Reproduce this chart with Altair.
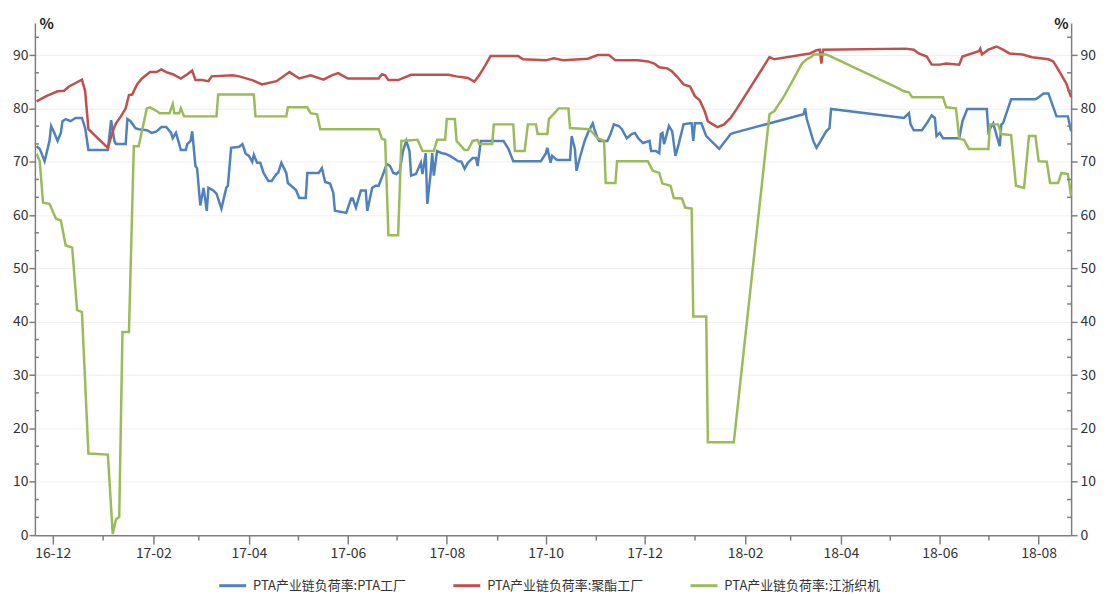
import altair as alt
import pandas as pd

SERIES = ["PTA产业链负荷率:PTA工厂", "PTA产业链负荷率:聚酯工厂", "PTA产业链负荷率:江浙织机"]
COLORS = ["#4F81BD", "#C0504D", "#9BBB59"]

pta_dates = ["2016-11-21","2016-11-23","2016-11-26","2016-11-29","2016-11-30","2016-12-02","2016-12-04","2016-12-06","2016-12-07","2016-12-09","2016-12-12","2016-12-15","2016-12-19","2016-12-21","2016-12-23","2017-01-04","2017-01-06","2017-01-08","2017-01-09","2017-01-15","2017-01-16","2017-01-18","2017-01-21","2017-01-23","2017-01-28","2017-01-31","2017-02-03","2017-02-06","2017-02-09","2017-02-12","2017-02-13","2017-02-15","2017-02-17","2017-02-18","2017-02-21","2017-02-22","2017-02-24","2017-02-25","2017-02-27","2017-02-28","2017-03-02","2017-03-04","2017-03-06","2017-03-07","2017-03-10","2017-03-12","2017-03-15","2017-03-18","2017-03-19","2017-03-21","2017-03-26","2017-03-28","2017-03-30","2017-04-01","2017-04-03","2017-04-04","2017-04-06","2017-04-08","2017-04-10","2017-04-13","2017-04-15","2017-04-18","2017-04-19","2017-04-21","2017-04-24","2017-04-25","2017-04-27","2017-04-30","2017-05-02","2017-05-06","2017-05-07","2017-05-14","2017-05-16","2017-05-18","2017-05-21","2017-05-23","2017-05-24","2017-05-31","2017-06-03","2017-06-04","2017-06-06","2017-06-09","2017-06-12","2017-06-13","2017-06-16","2017-06-18","2017-06-20","2017-06-23","2017-06-25","2017-06-27","2017-06-29","2017-07-01","2017-07-03","2017-07-05","2017-07-07","2017-07-09","2017-07-10","2017-07-13","2017-07-16","2017-07-17","2017-07-19","2017-07-20","2017-07-22","2017-07-23","2017-07-24","2017-07-26","2017-07-29","2017-07-31","2017-08-03","2017-08-06","2017-08-08","2017-08-10","2017-08-12","2017-08-14","2017-08-17","2017-08-19","2017-08-20","2017-08-22","2017-09-05","2017-09-08","2017-09-11","2017-09-28","2017-10-01","2017-10-02","2017-10-04","2017-10-05","2017-10-08","2017-10-16","2017-10-17","2017-10-19","2017-10-20","2017-10-22","2017-10-25","2017-10-27","2017-10-30","2017-10-31","2017-11-02","2017-11-03","2017-11-08","2017-11-10","2017-11-12","2017-11-15","2017-11-17","2017-11-20","2017-11-23","2017-11-25","2017-11-27","2017-11-30","2017-12-04","2017-12-05","2017-12-08","2017-12-10","2017-12-11","2017-12-12","2017-12-13","2017-12-16","2017-12-18","2017-12-20","2017-12-22","2017-12-25","2017-12-29","2017-12-30","2017-12-31","2018-01-01","2018-01-05","2018-01-08","2018-01-16","2018-01-23","2018-01-25","2018-03-09","2018-03-10","2018-03-11","2018-03-15","2018-03-17","2018-03-23","2018-03-25","2018-03-26","2018-05-10","2018-05-13","2018-05-14","2018-05-16","2018-05-21","2018-05-24","2018-05-27","2018-05-29","2018-05-30","2018-06-01","2018-06-03","2018-06-13","2018-06-15","2018-06-18","2018-06-30","2018-07-01","2018-07-04","2018-07-07","2018-07-08","2018-07-09","2018-07-10","2018-07-15","2018-07-30","2018-08-01","2018-08-04","2018-08-07","2018-08-12","2018-08-19","2018-08-21"]
pta_values = [72.9,72.4,70.1,73.9,76.7,75.4,73.9,75.4,77.6,78.0,77.6,78.2,78.2,76.3,72.2,72.2,77.8,73.9,73.3,73.3,78.0,77.6,76.3,76.1,75.9,75.4,75.7,76.5,76.5,75.4,74.4,75.4,73.3,72.2,72.2,73.3,73.9,75.7,69.2,68.8,61.8,65.1,60.8,65.1,64.6,64.0,61.2,65.1,65.5,72.6,72.8,73.3,71.5,71.1,70.0,71.3,69.8,69.8,67.9,66.4,66.4,67.7,67.9,69.8,67.9,66.0,65.5,64.7,63.2,63.2,67.9,67.9,68.8,66.2,65.9,64.2,60.8,60.4,63.1,63.1,61.4,64.6,64.6,60.8,65.1,65.5,65.5,67.9,69.6,69.2,67.9,67.7,68.3,72.0,73.9,72.0,67.4,67.7,69.8,67.7,71.6,62.1,67.7,71.6,67.4,72.0,71.6,71.5,71.1,70.5,70.1,70.0,68.7,69.8,70.7,70.7,69.2,73.9,73.9,72.4,70.1,70.1,71.5,72.6,69.8,71.1,70.3,70.3,74.8,72.4,68.3,70.7,73.9,75.4,77.2,76.1,74.4,73.9,73.9,75.2,77.0,76.7,76.1,74.4,75.2,75.4,74.4,73.5,73.9,72.0,72.0,71.6,75.2,75.4,73.3,76.7,75.7,71.1,73.3,77.0,77.2,77.2,73.9,77.2,77.2,74.8,72.4,75.2,75.4,78.9,80.0,78.0,73.9,72.6,75.7,76.3,79.9,78.2,79.1,77.0,75.9,75.9,77.2,78.7,78.2,74.8,75.4,74.4,74.4,77.6,79.9,79.9,75.7,77.2,73.9,72.9,77.0,77.2,81.7,81.7,82.1,82.8,82.8,78.5,78.5,75.7]

polyester_dates = ["2016-11-21","2016-11-27","2016-12-04","2016-12-08","2016-12-11","2016-12-16","2016-12-19","2016-12-21","2016-12-23","2017-01-04","2017-01-07","2017-01-09","2017-01-12","2017-01-15","2017-01-17","2017-01-19","2017-01-22","2017-01-25","2017-01-30","2017-02-03","2017-02-06","2017-02-09","2017-02-13","2017-02-18","2017-02-22","2017-02-25","2017-02-27","2017-03-03","2017-03-07","2017-03-09","2017-03-22","2017-03-26","2017-04-03","2017-04-09","2017-04-18","2017-04-26","2017-05-02","2017-05-09","2017-05-17","2017-05-22","2017-05-26","2017-06-01","2017-06-20","2017-06-22","2017-06-24","2017-06-26","2017-07-02","2017-07-10","2017-08-02","2017-08-07","2017-08-14","2017-08-18","2017-08-21","2017-08-25","2017-08-28","2017-09-14","2017-09-17","2017-10-01","2017-10-06","2017-10-12","2017-10-27","2017-11-02","2017-11-09","2017-11-13","2017-11-27","2017-12-03","2017-12-07","2017-12-10","2017-12-15","2017-12-18","2017-12-22","2017-12-25","2017-12-29","2018-01-01","2018-01-04","2018-01-07","2018-01-09","2018-01-12","2018-01-15","2018-01-19","2018-01-23","2018-01-27","2018-02-16","2018-02-19","2018-03-09","2018-03-13","2018-03-17","2018-03-19","2018-03-20","2018-03-21","2018-05-11","2018-05-16","2018-05-19","2018-05-24","2018-05-27","2018-06-01","2018-06-05","2018-06-13","2018-06-15","2018-06-25","2018-06-26","2018-06-27","2018-07-01","2018-07-06","2018-07-10","2018-07-14","2018-07-22","2018-07-28","2018-08-07","2018-08-10","2018-08-13","2018-08-18","2018-08-21"]
polyester_values = [81.3,82.3,83.2,83.3,84.1,84.9,85.4,83.2,76.1,72.6,75.7,77.2,78.5,80.0,82.5,82.6,84.5,85.6,86.8,86.8,87.3,86.8,86.4,85.6,86.4,87.1,85.3,85.3,85.1,86.0,86.2,86.0,85.3,84.5,85.1,86.8,85.6,86.2,85.4,86.2,86.6,85.6,85.6,86.4,86.2,85.3,85.3,86.3,86.3,86.0,85.7,85.0,86.2,88.2,89.8,89.8,89.2,89.0,89.4,89.0,89.3,90.0,90.0,89.0,89.0,88.8,88.4,87.7,87.5,86.9,85.6,84.5,84.1,82.3,81.5,79.5,77.6,77.0,76.5,77.0,78.2,80.0,89.6,89.2,90.1,90.3,90.9,91.0,88.4,91.0,91.2,91.0,90.3,89.7,88.2,88.2,88.4,88.2,89.7,90.7,91.2,90.1,91.0,91.6,91.0,90.3,90.1,89.6,89.2,88.8,87.3,84.7,82.1]

loom_dates = ["2016-11-21","2016-11-23","2016-11-25","2016-11-29","2016-12-03","2016-12-06","2016-12-09","2016-12-13","2016-12-16","2016-12-19","2016-12-23","2017-01-04","2017-01-07","2017-01-09","2017-01-11","2017-01-13","2017-01-17","2017-01-20","2017-01-23","2017-01-28","2017-01-30","2017-02-03","2017-02-05","2017-02-11","2017-02-13","2017-02-14","2017-02-17","2017-02-18","2017-02-20","2017-03-12","2017-03-13","2017-04-04","2017-04-05","2017-04-24","2017-04-25","2017-05-07","2017-05-09","2017-05-13","2017-05-15","2017-06-20","2017-06-22","2017-06-24","2017-06-26","2017-07-02","2017-07-04","2017-07-14","2017-07-17","2017-07-24","2017-07-26","2017-07-31","2017-08-01","2017-08-06","2017-08-07","2017-08-12","2017-08-14","2017-08-17","2017-08-20","2017-08-21","2017-08-29","2017-08-30","2017-09-11","2017-09-12","2017-09-18","2017-09-20","2017-09-25","2017-09-26","2017-10-02","2017-10-03","2017-10-09","2017-10-15","2017-10-16","2017-10-28","2017-11-02","2017-11-06","2017-11-07","2017-11-13","2017-11-14","2017-12-03","2017-12-06","2017-12-10","2017-12-12","2017-12-17","2017-12-19","2017-12-24","2017-12-26","2017-12-30","2017-12-31","2018-01-08","2018-01-09","2018-01-25","2018-02-16","2018-02-19","2018-02-25","2018-03-03","2018-03-08","2018-03-11","2018-03-14","2018-03-15","2018-03-23","2018-03-26","2018-05-05","2018-05-10","2018-05-13","2018-05-15","2018-06-03","2018-06-05","2018-06-11","2018-06-13","2018-06-16","2018-06-19","2018-07-01","2018-07-02","2018-07-07","2018-07-09","2018-07-15","2018-07-18","2018-07-23","2018-07-26","2018-07-30","2018-08-01","2018-08-06","2018-08-08","2018-08-13","2018-08-15","2018-08-19","2018-08-21"]
loom_values = [71.5,70.1,62.3,62.1,59.3,59.0,54.3,53.9,42.2,41.8,15.3,15.1,0.2,3.0,3.4,38.1,38.1,72.9,72.9,80.0,80.2,79.5,79.1,79.1,80.8,79.1,79.1,80.0,78.5,78.5,82.6,82.6,78.5,78.5,80.2,80.2,79.1,78.9,76.1,76.1,74.3,74.1,56.2,56.2,73.9,74.1,72.0,72.0,74.1,74.1,78.0,78.0,73.9,72.2,72.2,73.9,74.1,73.3,73.3,77.0,77.0,72.0,72.0,77.0,77.0,75.2,75.2,78.0,80.0,80.0,76.3,76.1,74.4,73.9,66.0,66.0,70.1,70.1,68.3,67.9,65.9,65.5,63.2,63.1,61.4,61.2,41.0,41.0,17.4,17.4,78.9,79.5,82.3,85.6,88.4,89.2,89.7,90.1,90.1,89.7,84.0,83.2,83.0,82.1,82.1,80.2,80.0,74.3,74.1,72.4,72.4,77.0,77.0,75.2,75.0,65.5,65.1,74.8,74.8,70.1,70.0,66.0,66.0,67.9,67.7,63.6]

Y_MAJOR = [0, 10, 20, 30, 40, 50, 60, 70, 80, 90]
Y_MINOR = [3.33, 6.67, 13.33, 16.67, 23.33, 26.67, 33.33, 36.67, 43.33, 46.67,
           53.33, 56.67, 63.33, 66.67, 73.33, 76.67, 83.33, 86.67, 93.33]
X_TICK_MONTHS = [(2016, 12), (2017, 1), (2017, 2), (2017, 3), (2017, 4), (2017, 5), (2017, 6),
                 (2017, 7), (2017, 8), (2017, 9), (2017, 10), (2017, 11), (2017, 12), (2018, 1),
                 (2018, 2), (2018, 3), (2018, 4), (2018, 5), (2018, 6), (2018, 7), (2018, 8)]

rows = []
for name, ds, vs in zip(SERIES, [pta_dates, polyester_dates, loom_dates],
                        [pta_values, polyester_values, loom_values]):
    rows += [{"date": d, "value": v, "series": name} for d, v in zip(ds, vs)]
df = pd.DataFrame(rows)
minor_df = pd.DataFrame({"v": Y_MINOR})

W, H = 1040, 514
AXIS = "#7F7F7F"
LABEL = "#333333"
FONT = "Noto Sans CJK SC"

xscale = alt.Scale(type="utc", domain=[alt.DateTime(year=2016, month=11, date=20, utc=True),
                                       alt.DateTime(year=2018, month=8, date=21, utc=True)])
yscale = alt.Scale(domain=[0, 96], nice=False, zero=True)

odd_test = "utcmonth(datum.value) % 2 == 1"
x_axis = alt.Axis(
    values=[alt.DateTime(year=y, month=m, date=1, utc=True) for y, m in X_TICK_MONTHS],
    labelExpr=f"{odd_test} ? utcFormat(datum.value, '%y-%m') : ''",
    tickSize={"condition": {"test": odd_test, "value": 9}, "value": 5},
    title=None, grid=False, domainColor=AXIS, domainWidth=1.5, tickColor=AXIS, tickWidth=1.5,
    labelFontSize=14, labelColor=LABEL, labelPadding=2, labelFont=FONT,
)

common_y = dict(values=Y_MAJOR, title="%", titleAngle=0, titleFontSize=15, titleFontWeight="bold",
                titleColor="#222222", titleBaseline="alphabetic", titleY=6, titleFont=FONT,
                domainColor=AXIS, domainWidth=1.5, tickColor=AXIS, tickWidth=1.5, tickSize=6,
                labelFontSize=14, labelColor=LABEL, labelFont=FONT)

lines = alt.Chart(df).mark_line(strokeWidth=2.5).encode(
    x=alt.X("date:T", scale=xscale, axis=x_axis),
    y=alt.Y("value:Q", scale=yscale,
            axis=alt.Axis(orient="left", titleX=4, titleAlign="left", labelPadding=1,
                          grid=True, gridColor="#EFEFEF", gridWidth=1, **common_y)),
    color=alt.Color("series:N", scale=alt.Scale(domain=SERIES, range=COLORS),
                    legend=alt.Legend(orient="none", legendX=183, legendY=549, title=None,
                                      direction="horizontal",
                                      symbolType="stroke", symbolStrokeWidth=3, symbolSize=730,
                                      labelFontSize=13, labelColor=LABEL, labelFont=FONT,
                                      labelOffset=5, labelLimit=400, columnPadding=40)),
    order=alt.Order("date:T"),
)

left_minor = alt.Chart(minor_df).mark_rule(color=AXIS, strokeWidth=1.5).encode(
    y=alt.Y("v:Q", scale=yscale, axis=None),
    x=alt.value(0), x2=alt.value(4),
)
right_minor = alt.Chart(minor_df).mark_rule(color=AXIS, strokeWidth=1.5).encode(
    y=alt.Y("v:Q", scale=yscale,
            axis=alt.Axis(orient="right", titleX=-3, titleAlign="right", labelPadding=3,
                          grid=False, **common_y)),
    x=alt.value(W - 4), x2=alt.value(W),
)

chart = alt.layer(lines, left_minor, right_minor).resolve_scale(y="independent").properties(
    width=W, height=H,
    autosize=alt.AutoSizeParams(type="none"),
    padding={"left": 27, "top": 14, "right": 28, "bottom": 58},
    background="white",
).configure_view(stroke=None)

chart.save("out.html", embed_options={"renderer": "svg", "actions": False})
